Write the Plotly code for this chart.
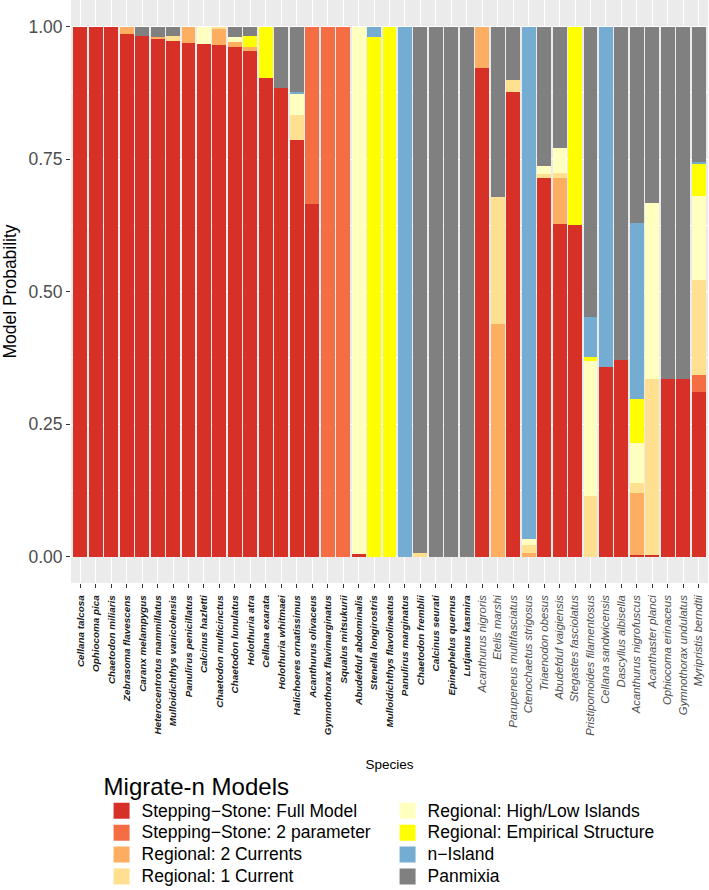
import plotly.graph_objects as go

species = [
    "Cellana talcosa", "Ophiocoma pica", "Chaetodon miliaris", "Zebrasoma flavescens",
    "Caranx melampygus", "Heterocentrotus mammillatus", "Mulloidichthys vanicolensis",
    "Panulirus penicillatus", "Calcinus hazletti", "Chaetodon multicinctus",
    "Chaetodon lunulatus", "Holothuria atra", "Cellana exarata", "Holothuria whitmaei",
    "Halichoeres ornatissimus", "Acanthurus olivaceus", "Gymnothorax flavimarginatus",
    "Squalus mitsukurii", "Abudefduf abdominalis", "Stenella longirostris",
    "Mulloidichthys flavolineatus", "Panulirus marginatus", "Chaetodon fremblii",
    "Calcinus seurati", "Epinephelus quernus", "Lutjanus kasmira",
    "Acanthurus nigroris", "Etelis marshi", "Parupeneus multifasciatus",
    "Ctenochaetus strigosus", "Triaenodon obesus", "Abudefduf vaigiensis",
    "Stegastes fasciolatus", "Pristipomoides filamentosus", "Cellana sandwicensis",
    "Dascyllus albisella", "Acanthurus nigrofuscus", "Acanthaster planci",
    "Ophiocoma erinaceus", "Gymnothorax undulatus", "Myripristis berndtii",
]
# first 26 species carry bold labels
bold_count = 26

stepping_full = [1.0, 1.0, 1.0, 0.985, 0.983, 0.977, 0.972, 0.968, 0.967, 0.966,
                 0.961, 0.953, 0.903, 0.884, 0.785, 0.665, 0.0, 0.0, 0.004, 0.0,
                 0.0, 0.0, 0.0, 0.0, 0.0, 0.0, 0.922, 0.0, 0.877, 0.0,
                 0.715, 0.628, 0.626, 0.0, 0.358, 0.370, 0.003, 0.002, 0.335, 0.334, 0.310]
stepping_2p = [0.0, 0.0, 0.0, 0.0, 0.0, 0.0, 0.0, 0.0, 0.0, 0.0,
               0.0, 0.0, 0.0, 0.0, 0.0, 0.335, 1.0, 1.0, 0.0, 0.0,
               0.0, 0.0, 0.0, 0.0, 0.0, 0.0, 0.0, 0.0, 0.0, 0.0,
               0.0, 0.0, 0.0, 0.0, 0.0, 0.0, 0.0, 0.0, 0.0, 0.0, 0.033]
regional_2cur = [0.0, 0.0, 0.0, 0.015, 0.0, 0.003, 0.0, 0.032, 0.0, 0.030,
                 0.009, 0.008, 0.0, 0.0, 0.0, 0.0, 0.0, 0.0, 0.0, 0.0,
                 0.0, 0.0, 0.0, 0.0, 0.0, 0.0, 0.078, 0.438, 0.0, 0.006,
                 0.0, 0.087, 0.0, 0.0, 0.0, 0.0, 0.116, 0.0, 0.0, 0.0, 0.0]
regional_1cur = [0.0, 0.0, 0.0, 0.0, 0.0, 0.0, 0.011, 0.0, 0.0, 0.004,
                 0.0, 0.0, 0.0, 0.0, 0.048, 0.0, 0.0, 0.0, 0.0, 0.0,
                 0.0, 0.0, 0.006, 0.0, 0.0, 0.0, 0.0, 0.240, 0.023, 0.016,
                 0.006, 0.008, 0.0, 0.114, 0.0, 0.0, 0.019, 0.333, 0.0, 0.0, 0.179]
regional_hl = [0.0, 0.0, 0.0, 0.0, 0.0, 0.0, 0.0, 0.0, 0.033, 0.0,
               0.011, 0.0, 0.0, 0.0, 0.039, 0.0, 0.0, 0.0, 0.996, 0.0,
               0.0, 0.0, 0.0, 0.0, 0.0, 0.0, 0.0, 0.0, 0.0, 0.011,
               0.016, 0.047, 0.0, 0.255, 0.0, 0.0, 0.077, 0.332, 0.0, 0.0, 0.158]
regional_emp = [0.0, 0.0, 0.0, 0.0, 0.0, 0.0, 0.0, 0.0, 0.0, 0.0,
                0.0, 0.022, 0.097, 0.0, 0.0, 0.0, 0.0, 0.0, 0.0, 0.981,
                1.0, 0.0, 0.0, 0.0, 0.0, 0.0, 0.0, 0.0, 0.0, 0.0,
                0.0, 0.0, 0.374, 0.008, 0.0, 0.0, 0.082, 0.0, 0.0, 0.0, 0.062]
n_island = [0.0, 0.0, 0.0, 0.0, 0.0, 0.0, 0.0, 0.0, 0.0, 0.0,
            0.0, 0.0, 0.0, 0.0, 0.005, 0.0, 0.0, 0.0, 0.0, 0.019,
            0.0, 1.0, 0.0, 0.0, 0.0, 0.0, 0.0, 0.0, 0.0, 0.967,
            0.0, 0.0, 0.0, 0.074, 0.642, 0.0, 0.333, 0.0, 0.0, 0.0, 0.002]
panmixia = [0.0, 0.0, 0.0, 0.0, 0.017, 0.020, 0.017, 0.0, 0.0, 0.0,
            0.019, 0.017, 0.0, 0.116, 0.123, 0.0, 0.0, 0.0, 0.0, 0.0,
            0.0, 0.0, 0.994, 1.0, 1.0, 1.0, 0.0, 0.322, 0.100, 0.0,
            0.263, 0.230, 0.0, 0.549, 0.0, 0.630, 0.370, 0.333, 0.665, 0.666, 0.256]

model_names = [
    "Stepping\u2212Stone: Full Model", "Stepping\u2212Stone: 2 parameter",
    "Regional: 2 Currents", "Regional: 1 Current",
    "Regional: High/Low Islands", "Regional: Empirical Structure",
    "n\u2212Island", "Panmixia",
]
model_values = [stepping_full, stepping_2p, regional_2cur, regional_1cur,
                regional_hl, regional_emp, n_island, panmixia]
model_colors = ["#D73027", "#F46D43", "#FDAE61", "#FEE090",
                "#FFFFBF", "#FFFF00", "#74ADD1", "#808080"]
# legend in two columns (column-major); plotly fills rows, so interleave ranks
legend_ranks = [1, 3, 5, 7, 2, 4, 6, 8]

y_ticks = [0, 0.25, 0.5, 0.75, 1.0]
y_ticklabels = ["0.00", "0.25", "0.50", "0.75", "1.00"]

FONT = "Liberation Sans, Arial, Helvetica, sans-serif"

tick_text = []
for i, s in enumerate(species):
    if i < bold_count:
        tick_text.append('<span style="font-size:9.9px"><b><i>%s</i></b></span>' % s)
    else:
        tick_text.append('<span style="font-size:11.3px;fill:#4D4D4D"><i>%s</i></span>' % s)

fig = go.Figure()
for name, vals, col in zip(model_names, model_values, model_colors):
    fig.add_trace(go.Bar(
        x=species, y=vals, name=name, showlegend=False, legendgroup=name,
        marker=dict(color=col, line=dict(width=0)),
    ))
# legend keys (square swatches, like ggplot's fill keys)
for name, col, rk in zip(model_names, model_colors, legend_ranks):
    fig.add_trace(go.Scatter(
        x=[None], y=[None], mode="markers", legendgroup=name, legendrank=rk,
        name='<span style="font-size:17.5px">%s</span>' % name,
        marker=dict(symbol="square", size=16, color=col, line=dict(width=0)),
        hoverinfo="skip",
    ))

fig.update_layout(
    width=709, height=890,
    barmode="stack", bargap=0.1,
    paper_bgcolor="white", plot_bgcolor="#EBEBEB",
    margin=dict(l=71, r=1, t=0, b=307, autoexpand=False),
    font=dict(family=FONT, color="#000000"),
    showlegend=True,
    legend=dict(
        orientation="h", traceorder="normal",
        x=0.048, xanchor="left", y=-0.31, yanchor="top",
        entrywidth=241, entrywidthmode="pixels",
        title=dict(text="Migrate-n Models", side="top",
                   font=dict(size=24, family=FONT, color="#000000")),
        font=dict(size=14.5, family=FONT, color="#000000"),
        tracegroupgap=0, itemclick=False, itemsizing="trace",
        bgcolor="rgba(0,0,0,0)",
    ),
)
fig.update_xaxes(
    type="category", categoryorder="array", categoryarray=species,
    range=[-0.6, len(species) - 0.4],
    tickmode="array", tickvals=species, ticktext=tick_text, tickangle=-90,
    tickfont=dict(size=10.5, family=FONT, color="#1A1A1A"),
    ticks="outside", ticklen=4, tickwidth=1, tickcolor="#333333",
    ticklabelstandoff=3,
    showgrid=True, gridcolor="white", gridwidth=1.1,
    zeroline=False, showline=False, automargin=False,
    title=dict(text="Species", font=dict(size=13.5, family=FONT, color="#000000"),
               standoff=24),
)
fig.update_yaxes(
    range=[-0.05, 1.05],
    tickmode="array", tickvals=y_ticks, ticktext=y_ticklabels,
    tickfont=dict(size=17.5, family=FONT, color="#4D4D4D"),
    ticks="outside", ticklen=4, tickwidth=1, tickcolor="#333333",
    showgrid=True, gridcolor="white", gridwidth=1.1,
    minor=dict(dtick=0.125, showgrid=True, gridcolor="white", gridwidth=0.5),
    zeroline=False, showline=False, automargin=False,
    title=dict(text="Model Probability", font=dict(size=17.5, family=FONT, color="#000000"),
               standoff=8),
)

fig.write_html(
    "out.html",
    config={"displayModeBar": False},
    post_script="document.body.style.margin='0';document.body.style.overflow='hidden';",
)
